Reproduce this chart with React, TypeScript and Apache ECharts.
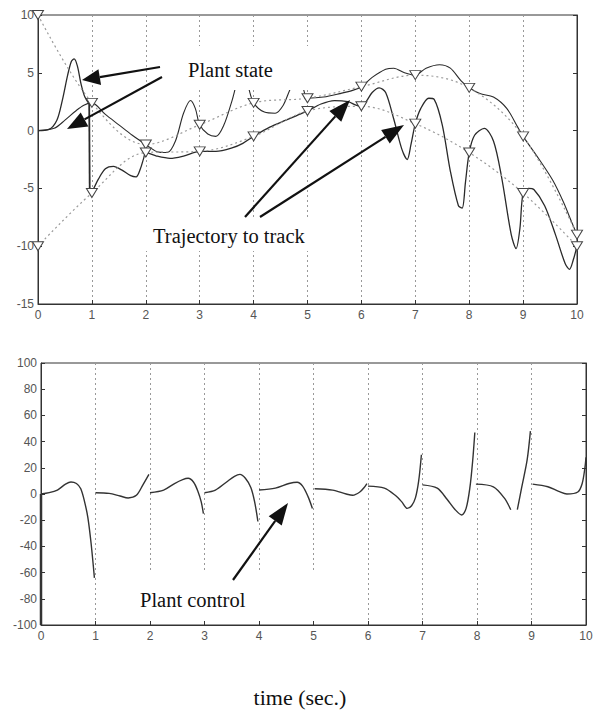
import React, { useEffect, useRef } from "react";
import * as echarts from "echarts";

// ---- DATA ----
const tSamples = [0, 1, 2, 3, 4, 5, 6, 7, 8, 9, 10];
const xTicks = [0, 10, 1]; // min, max, interval
const stateTicks = [-15, 10, 5];
const controlTicks = [-100, 100, 20];

// trajectory to track (sampled at integer times, triangle markers)
const trajectory1 = [10, 2.4, -1.2, 0.5, 2.4, 2.8, 3.8, 4.8, 3.7, -0.5, -9.0];
const trajectory2 = [-10, -5.4, -1.9, -1.8, -0.5, 1.7, 2.1, 0.6, -1.9, -5.4, -10.0];

// plant state 1
const state1Rise = [
  [0, 0], [0.2, 0.1], [0.35, 0.9], [0.45, 2.6], [0.55, 4.8], [0.62, 6.0], [0.67, 6.2],
  [0.73, 5.6], [0.8, 4.0], [0.87, 2.9], [0.95, 2.3],
];
const state1Jump = [[0.95, 2.3], [0.96, -5.4]];
const state1Track = [
  [0.96, -5.4], [1.0, -5.3], [1.12, -4.2], [1.25, -3.3], [1.4, -3.1], [1.55, -3.4],
  [1.72, -3.9], [1.82, -4.0], [1.9, -3.3], [1.96, -2.4], [2.0, -1.9], [2.2, -2.2],
  [2.45, -2.4], [2.7, -2.2], [3.0, -1.8], [3.3, -1.8], [3.6, -1.5], [3.8, -1.1],
  [4.0, -0.5], [4.3, 0.3], [4.6, 0.9], [4.8, 1.3], [5.0, 1.7], [5.25, 2.3], [5.5, 2.6],
  [5.75, 2.5], [5.9, 2.2], [6.0, 2.1], [6.1, 2.6], [6.2, 3.3], [6.33, 3.7], [6.45, 3.3],
  [6.6, 1.0], [6.75, -1.6], [6.85, -2.5], [6.92, -1.2], [7.0, 0.6], [7.1, 1.9],
  [7.25, 2.8], [7.35, 2.7], [7.5, 0.5], [7.65, -3.5], [7.8, -6.5], [7.87, -6.7],
  [7.93, -4.5], [8.0, -1.9], [8.1, -0.4], [8.28, 0.2], [8.45, -0.9], [8.6, -4.0],
  [8.78, -9.0], [8.87, -10.2], [8.94, -8.5], [9.0, -5.4], [9.1, -5.0], [9.2, -5.1],
  [9.4, -6.5], [9.6, -9.0], [9.78, -11.5], [9.86, -12.0], [9.93, -11.2], [10.0, -10.0],
];

// plant state 2
const state2 = [
  [0, 0], [0.3, 0.2], [0.5, 0.9], [0.7, 1.7], [0.85, 2.2], [1.0, 2.4], [1.25, 1.4],
  [1.5, 0.5], [1.75, -0.4], [2.0, -1.2], [2.2, -1.8], [2.4, -1.9], [2.55, -0.9],
  [2.7, 1.5], [2.83, 2.6], [2.92, 1.9], [3.0, 0.5], [3.15, -0.3], [3.3, -0.5],
  [3.45, 0.5], [3.6, 2.6], [3.72, 4.5], [3.82, 4.8], [3.9, 3.8], [4.0, 2.4], [4.2, 1.6],
  [4.4, 1.5], [4.55, 2.2], [4.68, 3.6], [4.8, 4.6], [4.9, 4.0], [5.0, 2.8], [5.3, 2.9],
  [5.6, 3.2], [5.85, 3.5], [6.0, 3.8], [6.2, 4.6], [6.45, 5.3], [6.6, 5.4], [6.8, 5.0],
  [7.0, 4.8], [7.2, 5.4], [7.45, 5.7], [7.65, 5.4], [7.85, 4.3], [8.0, 3.7], [8.2, 3.2],
  [8.45, 2.9], [8.7, 1.9], [8.9, 0.3], [9.0, -0.5], [9.3, -2.5], [9.55, -4.3],
  [9.75, -6.2], [9.9, -7.9], [10.0, -9.0],
];

// plant control, one segment per sampling interval
const controlImpulse = [[0, -100], [0, 0]];
const control0 = [[0, 0], [0.15, 1], [0.3, 3], [0.45, 7.5], [0.55, 9.2], [0.65, 8], [0.73, 4], [0.8, -6], [0.86, -18], [0.92, -38], [0.98, -64]];
const control1 = [[1.0, 1], [1.25, 0.5], [1.45, -1.5], [1.6, -3], [1.75, -1], [1.87, 7], [1.98, 15]];
const control2 = [[2.0, 1], [2.25, 3], [2.45, 8], [2.6, 11], [2.7, 12], [2.8, 9], [2.88, 2], [2.94, -6], [2.98, -15]];
const control3 = [[3.0, 1], [3.2, 3], [3.4, 9], [3.55, 13.5], [3.65, 15], [3.75, 12], [3.85, 5], [3.92, -6], [3.98, -21]];
const control4 = [[4.0, 3], [4.3, 4.5], [4.55, 8], [4.7, 9], [4.8, 6], [4.9, -2], [4.98, -11]];
const control5 = [[5.02, 4], [5.35, 3], [5.6, 0], [5.72, -1], [5.85, 1.5], [5.93, 5], [5.98, 8]];
const control6 = [[6.0, 6], [6.3, 4.5], [6.5, -1], [6.62, -6], [6.72, -11], [6.8, -9], [6.87, -3], [6.93, 10], [6.98, 30]];
const control7 = [[7.0, 7], [7.27, 4.5], [7.45, -4], [7.6, -12], [7.72, -16], [7.8, -11], [7.87, 5], [7.92, 25], [7.96, 47]];
const control8a = [[7.98, 7.5], [8.3, 5.5], [8.5, -3], [8.62, -12]];
const control8b = [[8.74, -12], [8.82, 5], [8.92, 26], [8.98, 48]];
const control9 = [[9.02, 7.5], [9.3, 5.5], [9.5, 2], [9.65, 0], [9.85, 1.5], [9.93, 8], [9.98, 20], [10.0, 28]];

const controlSegments = [control0, control1, control2, control3, control4, control5, control6, control7, control8a, control8b, control9];

const labels = {
  state: "Plant state",
  trajectory: "Trajectory to track",
  control: "Plant control",
  time: "time (sec.)",
};

// ---- CHART ----
const TICK_FONT = '"Liberation Sans", Arial, sans-serif';
const SERIF = '"Liberation Serif", "Times New Roman", serif';

function buildOption() {
  const pairs = (ys: number[]) => tSamples.map((t, i) => [t, ys[i]]);

  const xAxisBase = (gridIndex: number) => ({
    type: "value",
    gridIndex,
    min: xTicks[0],
    max: xTicks[1],
    interval: xTicks[2],
    axisLine: { show: true, onZero: false, lineStyle: { color: "#333", width: 1 } },
    axisTick: { show: true, inside: true, length: 4, lineStyle: { color: "#333" } },
    axisLabel: { color: "#555", fontSize: 12, fontFamily: TICK_FONT, margin: 5 },
    splitLine: { show: true, lineStyle: { type: [2, 3], color: "#999", width: 1 } },
  });

  const yAxisBase = (gridIndex: number, ticks: number[], right: boolean) => ({
    type: "value",
    gridIndex,
    position: right ? "right" : "left",
    min: ticks[0],
    max: ticks[1],
    interval: ticks[2],
    axisLine: { show: true, onZero: false, lineStyle: { color: "#333", width: 1 } },
    axisTick: { show: true, inside: true, length: 4, lineStyle: { color: "#333" } },
    axisLabel: { show: !right, color: "#555", fontSize: 12, fontFamily: TICK_FONT, margin: 4 },
    splitLine: { show: false },
  });

  const stateLine = (data: number[][], smooth: number | boolean, width = 1.3) => ({
    type: "line",
    xAxisIndex: 0,
    yAxisIndex: 0,
    data,
    smooth,
    symbol: "none",
    showSymbol: false,
    silent: true,
    lineStyle: { color: "#2a2a2a", width },
    z: 2,
  });

  const trajectoryLine = (ys: number[]) => ({
    type: "line",
    xAxisIndex: 0,
    yAxisIndex: 0,
    data: pairs(ys),
    smooth: 0.35,
    symbol: "triangle",
    symbolRotate: 180,
    symbolSize: [11, 9],
    showSymbol: true,
    showAllSymbol: true,
    silent: true,
    lineStyle: { type: [2, 3], color: "#9a9a9a", width: 1.2 },
    itemStyle: { color: "#fff", borderColor: "#444", borderWidth: 1 },
    z: 4,
  });

  const controlLine = (data: number[][], width = 1.4) => ({
    type: "line",
    xAxisIndex: 1,
    yAxisIndex: 2,
    data,
    smooth: 0.3,
    symbol: "none",
    showSymbol: false,
    silent: true,
    lineStyle: { color: "#333", width },
    z: 2,
  });

  const arrow = (x1: number, y1: number, x2: number, y2: number, headLen = 20, headHalf = 8) => {
    const dx = x2 - x1;
    const dy = y2 - y1;
    const len = Math.sqrt(dx * dx + dy * dy);
    const ux = dx / len;
    const uy = dy / len;
    const bx = x2 - ux * headLen;
    const by = y2 - uy * headLen;
    const px = -uy * headHalf;
    const py = ux * headHalf;
    return [
      { type: "line", z: 110, shape: { x1, y1, x2: bx, y2: by }, style: { stroke: "#111", lineWidth: 2.2 } },
      { type: "polygon", z: 110, shape: { points: [[x2, y2], [bx + px, by + py], [bx - px, by - py]] }, style: { fill: "#111" } },
    ];
  };

  const textEl = (text: string, x: number, y: number, size: number, align = "left") => ({
    type: "text",
    z: 111,
    x,
    y,
    style: {
      text,
      fill: "#111",
      font: `${size}px ${SERIF}`,
      textAlign: align,
      textVerticalAlign: "middle",
      align,
      verticalAlign: "middle",
    },
  });

  const whiteBox = (x: number, y: number, w: number, h: number) => ({
    type: "rect",
    z: 100,
    shape: { x, y, width: w, height: h },
    style: { fill: "#fff" },
  });

  return {
    animation: false,
    backgroundColor: "#fff",
    grid: [
      { left: 38, top: 15, width: 539, height: 289, show: true, borderColor: "#333", borderWidth: 1 },
      { left: 41, top: 363, width: 545, height: 262, show: true, borderColor: "#333", borderWidth: 1 },
    ],
    xAxis: [xAxisBase(0), xAxisBase(1)],
    yAxis: [
      yAxisBase(0, stateTicks, false),
      yAxisBase(0, stateTicks, true),
      yAxisBase(1, controlTicks, false),
      yAxisBase(1, controlTicks, true),
    ],
    series: [
      stateLine(state1Rise, 0.3),
      stateLine(state1Jump, false, 1.8),
      stateLine(state1Track, 0.3),
      stateLine(state2, 0.3, 1.1),
      trajectoryLine(trajectory1),
      trajectoryLine(trajectory2),
      controlLine(controlImpulse, 2.5),
      ...controlSegments.map((seg) => controlLine(seg)),
    ],
    graphic: [
      whiteBox(180, 46, 160, 44),
      whiteBox(146, 220, 168, 31),
      whiteBox(105, 572, 215, 49),
      textEl(labels.state, 188, 70, 20.5),
      textEl(labels.trajectory, 153, 236, 20.5),
      textEl(labels.control, 140, 600, 20.5),
      textEl(labels.time, 300, 697, 22, "center"),
      ...arrow(160, 67, 82, 80, 18, 8),
      ...arrow(162, 77, 67, 129, 20, 8),
      ...arrow(245, 217, 350, 100, 22, 8),
      ...arrow(260, 217, 404, 125, 22, 8),
      ...arrow(233, 580, 288, 503, 22, 8),
    ],
  };
}

export default function App() {
  const ref = useRef<HTMLDivElement>(null);
  useEffect(() => {
    if (!ref.current) return;
    const chart = echarts.init(ref.current, undefined, { renderer: "svg" });
    chart.setOption(buildOption() as any);
    return () => chart.dispose();
  }, []);
  return (
    <div
      ref={ref}
      style={{ position: "fixed", left: 0, top: 0, width: 600, height: 719, background: "#fff" }}
    />
  );
}
